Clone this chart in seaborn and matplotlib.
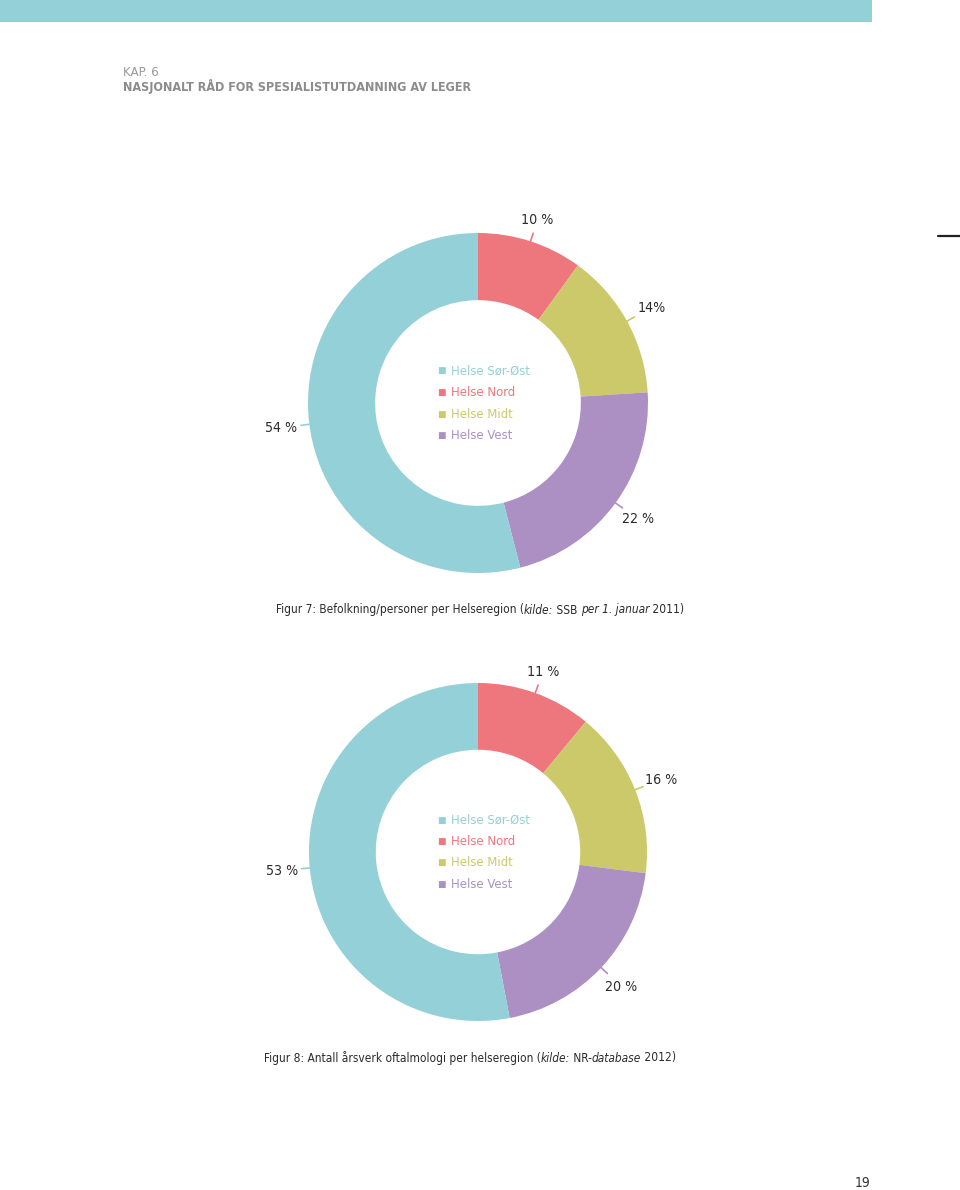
import numpy as np
import matplotlib
matplotlib.use("Agg")
import matplotlib.pyplot as plt
from matplotlib import font_manager
from matplotlib.font_manager import FontProperties
import seaborn as sns

# ---------------- data ----------------
regions = ["Helse Sør-Øst", "Helse Nord", "Helse Midt", "Helse Vest"]
slice_order = ["Helse Nord", "Helse Midt", "Helse Vest", "Helse Sør-Øst"]
fig7_values = [10, 14, 22, 54]
fig7_labels = ["10 %", "14%", "22 %", "54 %"]
fig8_values = [11, 16, 20, 53]
fig8_labels = ["11 %", "16 %", "20 %", "53 %"]
region_colors = {"Helse Sør-Øst": "#94D0D7", "Helse Nord": "#EE767D",
                 "Helse Midt": "#CBC96A", "Helse Vest": "#AC90C4"}
header_small = "KAP. 6"
header_title = "NASJONALT RÅD FOR SPESIALISTUTDANNING AV LEGER"
caption7 = [("Figur 7: Befolkning/personer per Helseregion (", "normal"), ("kilde:", "italic"),
            (" SSB ", "normal"), ("per 1. januar", "italic"), (" 2011)", "normal")]
caption8 = [("Figur 8: Antall årsverk oftalmologi per helseregion (", "normal"), ("kilde:", "italic"),
            (" NR-", "normal"), ("database", "italic"), (" 2012)", "normal")]
page_no = "19"

sns.set_theme(style="white")
plt.rcParams["font.family"] = ["Roboto", "DejaVu Sans"]

entries = font_manager.fontManager.ttflist
cond = [e for e in entries if ("narrow" in e.name.lower() or "condensed" in e.name.lower()
                               or "condensed" in str(e.stretch).lower()
                               or "Condensed" in e.fname or "Narrow" in e.fname)]


def pick(style, weight_bold):
    best = None
    for e in cond:
        is_it = e.style in ("italic", "oblique") or "Oblique" in e.fname or "Italic" in e.fname
        w = e.weight if isinstance(e.weight, int) else (700 if "bold" in str(e.weight) else 400)
        is_bold = w >= 600 or "Bold" in e.fname
        if is_it == (style == "italic") and is_bold == weight_bold:
            return e.fname
        if best is None and is_it == (style == "italic"):
            best = e.fname
    return best


f_reg = pick("normal", False)
f_it = pick("italic", False)
f_bold = pick("normal", True)
if f_reg:
    FP = lambda s=11, st="normal", b=False: FontProperties(
        fname=(f_it if st == "italic" and f_it else (f_bold if b and f_bold else f_reg)), size=s)
else:
    FP = lambda s=11, st="normal", b=False: FontProperties(
        family="Roboto", style=st, weight=("bold" if b else "normal"), size=s * 0.85)

W, H = 960, 1190
fig = plt.figure(figsize=(W / 100, H / 100), dpi=100)
fig.patch.set_facecolor("white")

band = fig.add_axes([0, 1 - 22 / H, 872 / W, 22 / H])
band.set_facecolor("#94D0D7"); band.set_xticks([]); band.set_yticks([])
for s in band.spines.values():
    s.set_visible(False)
fig.add_artist(plt.Line2D([938 / W, 1.0], [1 - 236 / H] * 2, color="#222222", lw=1.6))

fig.text(123 / W, 1 - 72 / H, header_small, fontproperties=FP(9.5), color="#9a9a9a", va="center")
fig.text(123 / W, 1 - 87 / H, header_title, fontproperties=FP(9.0, b=True), color="#8c8c8c",
         va="center")


def donut(cx, cy, r, values, labels):
    ax = fig.add_axes([(cx - r) / W, 1 - (cy + r) / H, 2 * r / W, 2 * r / H])
    cols = [region_colors[k] for k in slice_order]
    ax.pie(values, colors=cols, startangle=90, counterclock=False, radius=1,
           wedgeprops=dict(width=0.395, edgecolor="none"))
    ax.set_xlim(-1, 1); ax.set_ylim(-1, 1)
    ax.set_aspect("auto"); ax.axis("off")
    total = sum(values)
    cum = 0
    for v, lab, c in zip(values, labels, cols):
        mid = 90 - 360 * (cum + v / 2) / total
        cum += v
        a = np.deg2rad(mid)
        ax.plot([0.99 * np.cos(a), 1.05 * np.cos(a)], [0.99 * np.sin(a), 1.05 * np.sin(a)],
                color=c, lw=1.2, clip_on=False)
        d = 1.13 if abs(np.sin(a)) > 0.8 else 1.165
        ax.text(d * np.cos(a), d * np.sin(a), lab, fontproperties=FP(10.2), color="#2b2b2b",
                ha="center", va="center", clip_on=False)
    for i, name in enumerate(regions):
        y = cy - 32 + i * 21.5
        col = region_colors[name]
        fig.text(441 / W, 1 - y / H, "■", fontsize=6.5, color=col, ha="center", va="center",
                 family="DejaVu Sans")
        fig.text(451 / W, 1 - y / H, name, fontproperties=FP(9.4), color=col, ha="left",
                 va="center")


donut(478, 403, 170, fig7_values, fig7_labels)
donut(478, 852, 169, fig8_values, fig8_labels)

renderer = fig.canvas.get_renderer()


def caption(parts, cx, y):
    texts = []
    for s, st in parts:
        texts.append(fig.text(0, 1 - y / H, s, fontproperties=FP(8.6, st), color="#2b2b2b",
                              va="center", ha="left"))
    widths = [t.get_window_extent(renderer).width for t in texts]
    x = cx - sum(widths) / 2
    for t, w in zip(texts, widths):
        t.set_x(x / W)
        x += w


caption(caption7, 480, 610)
caption(caption8, 470, 1058)
fig.text(863 / W, 1 - 1183 / H, page_no, fontproperties=FP(10), color="#333333", ha="center",
         va="center")

fig.savefig("out.png", dpi=100, facecolor="white")
